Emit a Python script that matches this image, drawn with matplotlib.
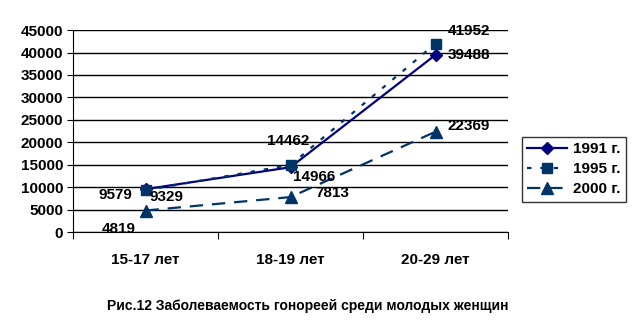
import matplotlib
matplotlib.use("Agg")
import matplotlib.pyplot as plt

categories = ["15-17 лет", "18-19 лет", "20-29 лет"]
series_names = ["1991 г.", "1995 г.", "2000 г."]
v1991 = [9579, 14462, 39488]
v1995 = [9329, 14966, 41952]
v2000 = [4819, 7813, 22369]
yticks = [0, 5000, 10000, 15000, 20000, 25000, 30000, 35000, 40000, 45000]
title = "Рис.12 Заболеваемость гонореей среди молодых женщин"

plt.rcParams['font.family'] = ['Liberation Sans', 'DejaVu Sans']
plt.rcParams['font.weight'] = 'bold'

fig = plt.figure(figsize=(6.35, 3.27), dpi=100)
ax = fig.add_axes([0.115, 0.29, 0.685, 0.618])

x = [0.5, 1.5, 2.5]
c1 = "#000080"
c2 = "#003366"
l1, = ax.plot(x, v1991, color=c1, lw=1.6, marker="D", ms=6, label=series_names[0], zorder=3)
l2, = ax.plot(x, v1995, color=c2, lw=1.6, ls=(0, (2, 4)), marker="s", ms=7, label=series_names[1], zorder=3)
l3, = ax.plot(x, v2000, color=c2, lw=1.6, ls=(0, (6, 4)), marker="^", ms=8, label=series_names[2], zorder=3)

fs = 11
# data labels (offsets in points)
offs1991 = [(-22, -4), (-2, 19), (24, 0)]
offs1995 = [(15, -5), (17, -9), (24, 9)]
offs2000 = [(-19, -13), (30, 3), (24, 4)]
for vals, offs in ((v1991, offs1991), (v1995, offs1995), (v2000, offs2000)):
    for xi, v, o in zip(x, vals, offs):
        ax.annotate(str(v), (xi, v), xytext=o, textcoords="offset points",
                    ha="center", va="center", fontsize=fs, fontweight="bold", color="black", zorder=4)

ax.set_xlim(0, 3)
ax.set_ylim(0, 45000)
ax.set_yticks(yticks)
ax.set_yticklabels([str(t) for t in yticks], fontsize=fs, fontweight="bold")
ax.set_xticks([0, 1, 2, 3])
ax.set_xticklabels([])
ax.set_xticks(x, minor=True)
ax.set_xticklabels(categories, minor=True, fontsize=fs, fontweight="bold")
ax.tick_params(axis="x", which="minor", length=0, pad=15)
ax.tick_params(axis="x", which="major", length=5, direction="out", color="black")
ax.tick_params(axis="y", length=4, direction="out", pad=3)
ax.yaxis.grid(True, color="black", lw=1)
ax.set_axisbelow(True)
for s in ("top", "right"):
    ax.spines[s].set_visible(False)
ax.spines["left"].set_color("black")
ax.spines["bottom"].set_color("black")

leg = fig.legend(handles=[l1, l2, l3], loc="center left", bbox_to_anchor=(0.822, 0.483),
                 frameon=True, fancybox=False, edgecolor="black",
                 handlelength=2.6, borderpad=0.35, labelspacing=0.4, handletextpad=0.4,
                 borderaxespad=0, prop={"weight": "bold", "size": 11})
leg.get_frame().set_linewidth(1.0)

fig.text(0.485, 0.065, title, ha="center", va="center", fontsize=10, fontweight="bold")

fig.savefig("out.png", dpi=100)
